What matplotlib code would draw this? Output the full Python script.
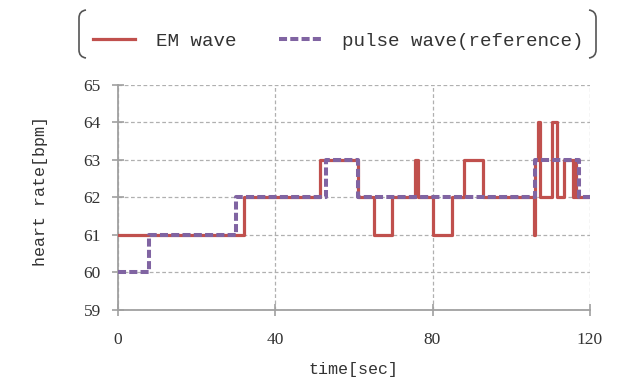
import matplotlib
matplotlib.use("Agg")
import matplotlib.pyplot as plt
from matplotlib.path import Path
from matplotlib.patches import PathPatch

# ---- data ----
em_t = [0, 32, 51.5, 61, 65.2, 69.8, 75.6, 76.4, 80, 84.9, 88, 92.8,
        105.8, 106.1, 106.8, 107.4, 110.4, 111.6, 113.4, 115.8, 116.2, 116.5, 120]
em_v = [61, 62, 63, 62, 61, 62, 63, 62, 61, 62, 63, 62,
        61, 63, 64, 62, 64, 62, 63, 62, 63, 62, 62]
pulse_t = [0, 8, 30, 53, 61, 106, 117.3, 120]
pulse_v = [60, 61, 62, 63, 62, 63, 62, 62]
x_ticks = [0, 40, 80, 120]
y_ticks = [59, 60, 61, 62, 63, 64, 65]
series_labels = ["EM wave", "pulse wave(reference)"]

RED = "#C0504D"
PURPLE = "#8064A2"
W, H = 631, 378

fig = plt.figure(figsize=(W / 100, H / 100), dpi=100)
ax = fig.add_axes([117.5 / W, 1 - 310 / H, (590 - 117.5) / W, (310 - 84.6) / H])

l1, = ax.step(em_t, em_v, where="post", color=RED, lw=2.3, zorder=3,
              label=series_labels[0])
l2, = ax.step(pulse_t, pulse_v, where="post", color=PURPLE, lw=2.9, zorder=4,
              dashes=(2.0, 0.8), label=series_labels[1])

ax.set_xlim(0, 120)
ax.set_ylim(59, 65)
ax.set_xticks(x_ticks)
ax.set_yticks(y_ticks)

ax.grid(True, color="#b0b0b0", linestyle=(0, (3, 2)), linewidth=0.9)
for s in ["top", "right"]:
    ax.spines[s].set_visible(False)
for s in ["left", "bottom"]:
    ax.spines[s].set_color("#a0a0a0")
    ax.spines[s].set_linewidth(1.3)

tick_font = {"family": "Liberation Serif", "size": 12.5}
ax.tick_params(direction="inout", length=8, width=1.2, color="#a0a0a0",
               labelcolor="#333333")
ax.tick_params(axis="x", pad=12)
ax.tick_params(axis="y", pad=8)
for lab in ax.get_xticklabels() + ax.get_yticklabels():
    lab.set_fontfamily("Liberation Serif")
    lab.set_fontsize(12.5)

mono = "Liberation Mono"
ax.set_xlabel("time[sec]", fontfamily=mono, fontsize=12, color="#333333")
ax.xaxis.set_label_coords(0.5, -0.262)
ax.xaxis.label.set_verticalalignment("center")
ax.set_ylabel("heart rate[bpm]", fontfamily=mono, fontsize=12, color="#333333")
ax.yaxis.set_label_coords(-0.164, 0.53)
ax.yaxis.label.set_verticalalignment("center")

leg = fig.legend(handles=[l1, l2], labels=series_labels, ncol=2,
                 loc="center", bbox_to_anchor=(338 / W, 1 - 41 / H),
                 frameon=False, handlelength=2.2, handletextpad=1.1,
                 columnspacing=2.2, prop={"family": mono, "size": 13.8})
for t in leg.get_texts():
    t.set_color("#333333")


def fx(px):
    return px / W


def fy(py):
    return 1 - py / H


# bracket-style legend frame (left and right only)
verts_l = [(fx(86), fy(10)), (fx(79), fy(11)), (fx(79), fy(18)),
           (fx(79), fy(50)), (fx(79), fy(57)), (fx(86), fy(58))]
verts_r = [(fx(589), fy(10)), (fx(596), fy(11)), (fx(596), fy(18)),
           (fx(596), fy(50)), (fx(596), fy(57)), (fx(589), fy(58))]
codes = [Path.MOVETO, Path.CURVE3, Path.CURVE3, Path.LINETO, Path.CURVE3, Path.CURVE3]
for v in (verts_l, verts_r):
    fig.patches.append(PathPatch(Path(v, codes), transform=fig.transFigure,
                                 fill=False, edgecolor="#555555", lw=1.2))

fig.savefig("out.png", dpi=100)
